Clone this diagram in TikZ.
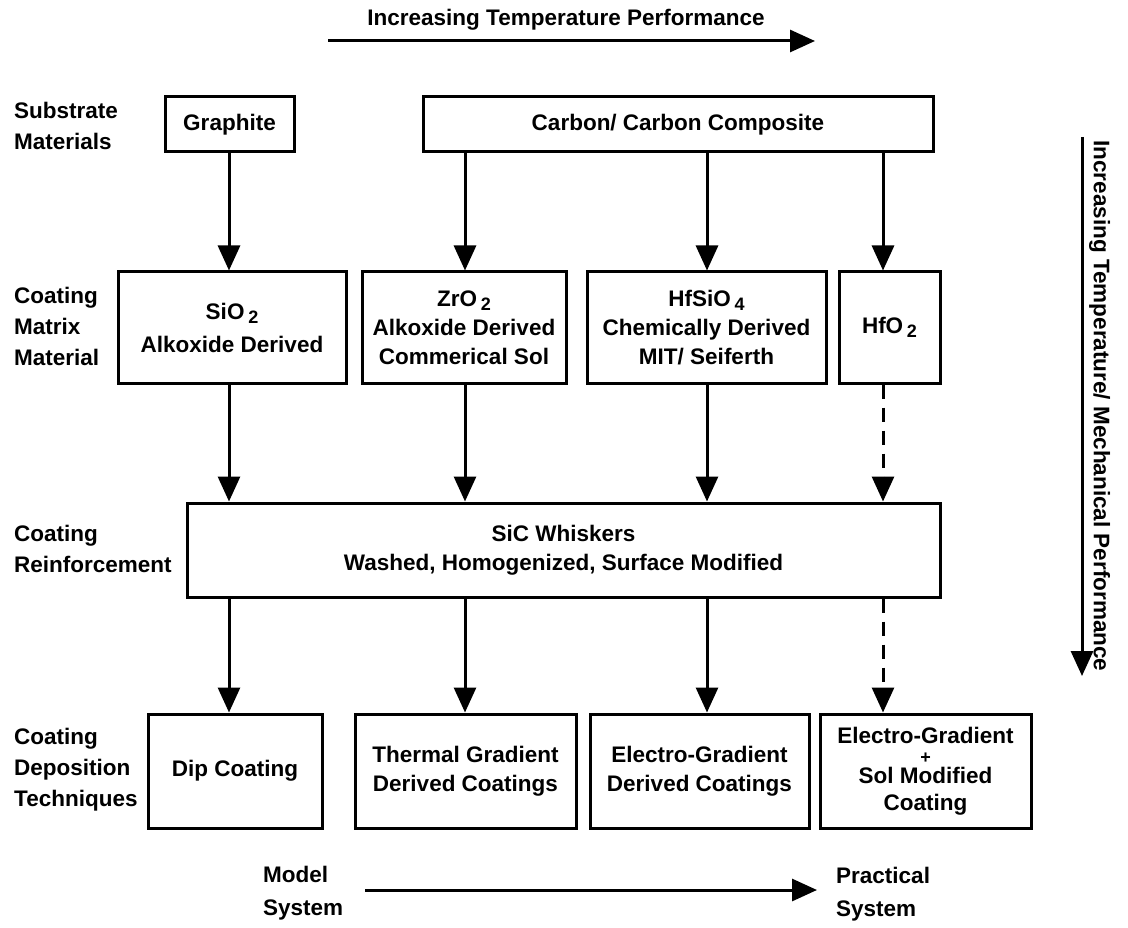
\documentclass[tikz,border=0pt]{standalone}
\usepackage{fontspec}
\setmainfont{Liberation Sans}
\usetikzlibrary{arrows.meta}
\newcommand\bx{\fontsize{22.5}{29}\selectfont\bfseries}
\newcommand\lb{\fontsize{22.5}{31}\selectfont\bfseries}
\newcommand\ms{\fontsize{22.5}{33}\selectfont\bfseries}
\newcommand\sbs[1]{\,\raisebox{-0.35ex}{\fontsize{18}{18}\selectfont #1}}
\begin{document}
\begin{tikzpicture}[x=1pt,y=-1pt,
  box/.style={draw, line width=3pt, inner sep=0pt, align=center, font=\bx},
  lbl/.style={inner sep=0pt, align=left, font=\lb, anchor=west},
  txt/.style={inner sep=0pt, align=left, font=\bx},
  mtxt/.style={inner sep=0pt, align=left, font=\ms, anchor=west},
  arr/.style={-{Triangle[length=25pt,width=22pt]}, line width=3pt},
  darr/.style={arr, dash pattern=on 14pt off 9pt}]
\fill[white] (0,0) rectangle (1128,928);
\useasboundingbox (0,0) rectangle (1128,928);

% columns
\coordinate (c1) at (229,0);
\coordinate (c2) at (465,0);
\coordinate (c3) at (707,0);
\coordinate (c4) at (883,0);

% top arrow
\node[txt] (title) at (566,20) {Increasing Temperature Performance};
\coordinate (ta) at (328,41);
\coordinate (tb) at (815,41);
\draw[arr] (ta) -- (tb);

% left labels
\node[lbl] (l1) at (14,126) {Substrate\\Materials};
\node[lbl] (l2) at (14,326) {Coating\\Matrix\\Material};
\node[lbl] (l3) at (14,549) {Coating\\Reinforcement};
\node[lbl] (l4) at (14,770) {Coating\\Deposition\\Techniques};

% row 1
\node[box, minimum width=129pt, minimum height=55pt] (graphite) at (229.5,124.5) {Graphite};
\node[box, minimum width=510pt, minimum height=55pt] (cc) at (678,124.5) {Carbon/ Carbon Composite};

% row 2
\node[box, minimum width=228pt, minimum height=111pt] (sio2) at (232,327.5) {SiO\sbs{2}\\[4pt]Alkoxide Derived};
\node[box, minimum width=204pt, minimum height=111pt] (zro2) at (464,327.5) {ZrO\sbs{2}\\Alkoxide Derived\\Commerical Sol};
\node[box, minimum width=239pt, minimum height=111pt] (hfsio4) at (706.5,327.5) {HfSiO\sbs{4}\\Chemically Derived\\MIT/ Seiferth};
\node[box, minimum width=101pt, minimum height=111pt] (hfo2) at (889.5,327.5) {HfO\sbs{2}};

% row 3
\node[box, minimum width=753pt, minimum height=94pt] (sic) at (563.5,550) {SiC Whiskers\\Washed, Homogenized, Surface Modified};

% row 4
\node[box, minimum width=174pt, minimum height=114pt] (dip) at (235,771) {Dip Coating};
\node[box, minimum width=221pt, minimum height=114pt] (thermal) at (465.5,771) {Thermal Gradient\\Derived Coatings};
\node[box, minimum width=219pt, minimum height=114pt] (electro) at (699.5,771) {Electro-Gradient\\Derived Coatings};
\node[box, minimum width=211pt, minimum height=114pt] (es) at (925.5,771) {Electro-Gradient\\[-9pt]{\fontsize{18}{18}\selectfont +}\\[-9pt]Sol Modified\\[-2pt]Coating};

% arrows row1 -> row2
\draw[arr] (graphite.south -| c1) -- (sio2.north -| c1);
\draw[arr] (cc.south -| c2) -- (zro2.north -| c2);
\draw[arr] (cc.south -| c3) -- (hfsio4.north -| c3);
\draw[arr] (cc.south -| c4) -- (hfo2.north -| c4);

% arrows row2 -> row3
\draw[arr] (sio2.south -| c1) -- (sic.north -| c1);
\draw[arr] (zro2.south -| c2) -- (sic.north -| c2);
\draw[arr] (hfsio4.south -| c3) -- (sic.north -| c3);
\draw[darr] (hfo2.south -| c4) -- (sic.north -| c4);

% arrows row3 -> row4
\draw[arr] (sic.south -| c1) -- (dip.north -| c1);
\draw[arr] (sic.south -| c2) -- (thermal.north -| c2);
\draw[arr] (sic.south -| c3) -- (electro.north -| c3);
\draw[darr] (sic.south -| c4) -- (es.north -| c4);

% bottom arrow
\node[mtxt] (model) at (263,893) {Model\\System};
\node[mtxt] (practical) at (836,894) {Practical\\System};
\coordinate (ba) at (365,890);
\coordinate (bb) at (817,890);
\draw[arr] (ba) -- (bb);

% right vertical arrow
\coordinate (va) at (1082,137);
\coordinate (vb) at (1082,676);
\draw[arr] (va) -- (vb);
\node[txt, rotate=-90, anchor=south] (vtxt) at (1089,406) {Increasing Temperature/ Mechanical Performance};
\end{tikzpicture}
\end{document}
